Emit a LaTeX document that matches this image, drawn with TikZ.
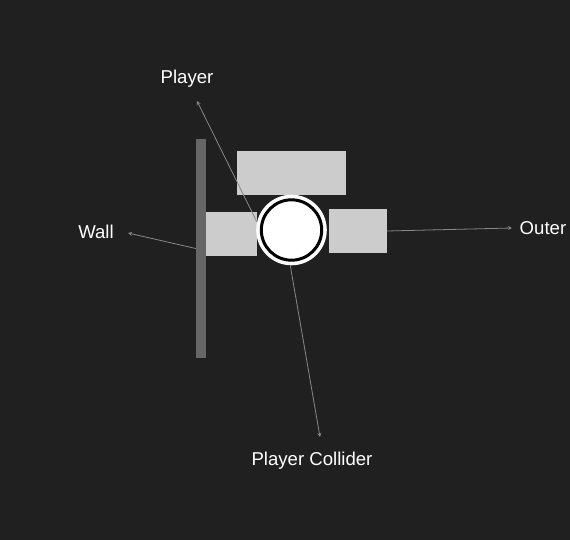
\documentclass[tikz,border=0pt]{standalone}
\usepackage{fontspec}
\setmainfont{Liberation Sans}
\usetikzlibrary{arrows}
\definecolor{bg}{HTML}{202020}
\definecolor{boxgray}{HTML}{CCCCCC}
\definecolor{wallgray}{HTML}{666666}
\definecolor{linegray}{HTML}{888888}
\begin{document}
\begin{tikzpicture}[x=1pt,y=-1pt]
                \tikzstyle{every node}+=[inner sep=0pt]
                \tikzstyle{block}=[rectangle, fill=boxgray, draw=none]
                \tikzstyle{pointer}=[draw=linegray, line width=0.8pt, -stealth]
                \tikzstyle{lbl}=[text=white, font=\fontsize{18.6}{22}\selectfont]
                \fill [bg] (0,0) rectangle (570,540);
                \useasboundingbox (0,0) rectangle (570,540);
                \node [block, fill=wallgray, minimum width=10pt, minimum height=219pt] (wall) at (201,248.5) {};
                \node [block, minimum width=109pt, minimum height=44pt] (topbox) at (291.5,173) {};
                \node [block, minimum width=51pt, minimum height=44pt] (leftbox) at (231.5,234) {};
                \node [block, minimum width=58pt, minimum height=44pt] (rightbox) at (358,231) {};
                \node [circle, fill=white, minimum size=70.6pt] (collider) at (291.5,230) {};
                \draw [black, line width=3pt] (collider) circle (30.2);
                \node [lbl] (playerlbl) at (187,79) {Player};
                \node [lbl] (walllbl) at (96,232) {Wall};
                \node [lbl] (outerlbl) at (543,228) {Outer};
                \node [lbl] (colliderlbl) at (312,461) {Player Collider};
                \coordinate (playertip) at (197,101);
                \coordinate (walltip) at (128,233);
                \coordinate (outertip) at (512,228);
                \coordinate (collidertip) at (320,437);
                \draw [pointer] (collider.167) -- (playertip);
                \draw [pointer] (wall.west) -- (walltip);
                \draw [pointer] (rightbox.east) -- (outertip);
                \draw [pointer] (collider.268) -- (collidertip);
\end{tikzpicture}
\end{document}
